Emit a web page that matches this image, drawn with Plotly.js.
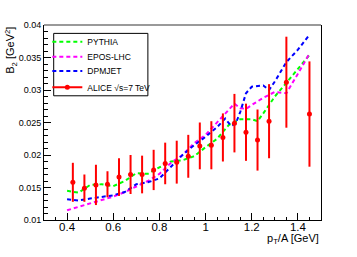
<!DOCTYPE html>
<html>
<head>
<meta charset="utf-8">
<script src="https://cdn.plot.ly/plotly-3.0.1.min.js"></script>
<style>html,body{margin:0;padding:0;background:#fff;}#chart{width:357px;height:257px;}</style>
</head>
<body>
<div id="chart"></div>
<script>
// ALICE data
const aliceX = [0.425,0.475,0.525,0.575,0.625,0.675,0.725,0.775,0.825,0.875,0.925,0.975,1.025,1.075,1.125,1.175,1.225,1.275,1.35,1.45];
const aliceY = [0.0158,0.0149,0.0154,0.0155,0.0166,0.0170,0.0170,0.0177,0.0187,0.0189,0.0198,0.0214,0.0215,0.0227,0.0249,0.0235,0.0223,0.0252,0.0312,0.0263];
const aliceErr = [0.0030,0.0021,0.0031,0.0020,0.0029,0.0030,0.0029,0.0031,0.0032,0.0033,0.0033,0.0036,0.0037,0.0037,0.0045,0.0044,0.0047,0.0057,0.0070,0.0081];

// PYTHIA
const pythiaX = [0.40,0.45,0.50,0.55,0.60,0.65,0.70,0.75,0.80,0.85,0.90,0.95,1.00,1.05,1.10,1.15,1.20,1.225,1.25,1.30,1.35,1.40,1.45];
const pythiaY = [0.0145,0.0142,0.0154,0.0155,0.0152,0.0160,0.0172,0.0171,0.0181,0.0190,0.0192,0.0198,0.0212,0.0225,0.0246,0.0255,0.0255,0.0252,0.0264,0.0290,0.0311,0.0332,0.0354];

// EPOS-LHC
const eposX = [0.40,0.45,0.50,0.55,0.60,0.65,0.70,0.75,0.80,0.85,0.90,0.95,1.00,1.05,1.10,1.125,1.15,1.175,1.20,1.25,1.30,1.35,1.40,1.45];
const eposY = [0.0115,0.0120,0.0126,0.0131,0.0136,0.0143,0.0152,0.0160,0.0171,0.0188,0.0200,0.0218,0.0231,0.0250,0.0270,0.0279,0.0272,0.0271,0.0277,0.0288,0.0297,0.0295,0.0325,0.0356];

// DPMJET
const dpmX = [0.40,0.45,0.50,0.55,0.60,0.65,0.70,0.75,0.80,0.85,0.90,0.95,1.00,1.05,1.085,1.11,1.13,1.15,1.175,1.20,1.25,1.275,1.30,1.35,1.40,1.45];
const dpmY = [0.0132,0.0130,0.0133,0.0136,0.0138,0.0143,0.0155,0.0158,0.0164,0.0182,0.0200,0.0215,0.0228,0.0243,0.0256,0.0245,0.0248,0.0266,0.0295,0.0305,0.0307,0.0300,0.0313,0.0343,0.0362,0.0385];

const xTickVals = [0.4,0.6,0.8,1,1.2,1.4];
const yTickVals = [0.01,0.015,0.02,0.025,0.03,0.035,0.04];

// interleave nulls so no connecting line is drawn but legend shows a line
const ax = [], ay = [], ae = [];
aliceX.forEach((v,i)=>{ ax.push(v, null); ay.push(aliceY[i], null); ae.push(aliceErr[i], null); });

const dashPat = '4px,3px';
const traces = [
  {x: pythiaX, y: pythiaY, name: 'PYTHIA', mode: 'lines', legend: 'legend', line: {color: '#00ff00', width: 2, dash: dashPat}},
  {x: eposX, y: eposY, name: 'EPOS-LHC', mode: 'lines', legend: 'legend2', line: {color: '#ff00ff', width: 2, dash: dashPat}},
  {x: dpmX, y: dpmY, name: 'DPMJET', mode: 'lines', legend: 'legend3', line: {color: '#0000ff', width: 2, dash: dashPat}},
  {x: ax, y: ay, name: 'ALICE √s=7 TeV', mode: 'lines+markers', connectgaps: false, legend: 'legend4',
   line: {color: '#ff0000', width: 2}, marker: {color: '#ff0000', size: 5, symbol: 'circle'},
   error_y: {type: 'data', array: ae, visible: true, color: '#ff0000', thickness: 2, width: 0}}
];

function leg(y) {
  return {x: 0.012, y: y, xanchor: 'left', yanchor: 'middle', bgcolor: 'rgba(0,0,0,0)',
    borderwidth: 0, font: {size: 8.5}, itemwidth: 30, tracegroupgap: 0};
}

const layout = {
  width: 357, height: 257,
  margin: {l: 44, r: 36, t: 25, b: 37, pad: 0},
  paper_bgcolor: '#fff', plot_bgcolor: '#fff',
  font: {family: 'Liberation Sans, Arial, sans-serif', color: '#000'},
  showlegend: true,
  legend: leg(0.914), legend2: leg(0.837), legend3: leg(0.764), legend4: leg(0.681),
  xaxis: {range: [0.3, 1.5], showgrid: false, zeroline: false, showline: true, linecolor: '#000', linewidth: 1,
    tickvals: xTickVals, ticktext: xTickVals.map(v => String(v)), ticks: 'inside', ticklen: 7, tickcolor: '#000',
    ticklabelstandoff: -4,
    tickfont: {size: 11.5}, minor: {ticks: 'inside', ticklen: 3, dtick: 0.05, tick0: 0, tickcolor: '#000'}},
  yaxis: {range: [0.01, 0.04], showgrid: false, zeroline: false, showline: true, linecolor: '#000', linewidth: 1, mirror: true,
    tickvals: yTickVals, ticktext: yTickVals.map(v => String(v)), ticks: 'inside', ticklen: 7, tickcolor: '#000',
    tickfont: {size: 9}, minor: {ticks: 'inside', ticklen: 4, dtick: 0.001, tick0: 0, tickcolor: '#000'}},
  shapes: [
    {type: 'line', xref: 'paper', yref: 'paper', x0: 0, x1: 1, y0: 1, y1: 1, line: {color: '#999', width: 2}},
    {type: 'rect', xref: 'paper', yref: 'paper', x0: 0.035, x1: 0.375, y0: 0.637, y1: 0.957, layer: 'above',
     fillcolor: '#fff', line: {color: '#000', width: 1}}
  ],
  annotations: [
    {text: 'B<sub>2</sub> [GeV<sup>2</sup>]', xref: 'paper', yref: 'paper', x: -0.12, y: 0.872,
     xanchor: 'center', yanchor: 'middle', textangle: -90, showarrow: false, font: {size: 11}},
    {text: 'p<sub>T</sub>/A [GeV]', xref: 'paper', yref: 'paper', x: 1, y: -0.097,
     xanchor: 'right', yanchor: 'middle', showarrow: false, font: {size: 11}}
  ]
};

Plotly.newPlot('chart', traces, layout, {displayModeBar: false, staticPlot: true});
</script>
</body>
</html>
